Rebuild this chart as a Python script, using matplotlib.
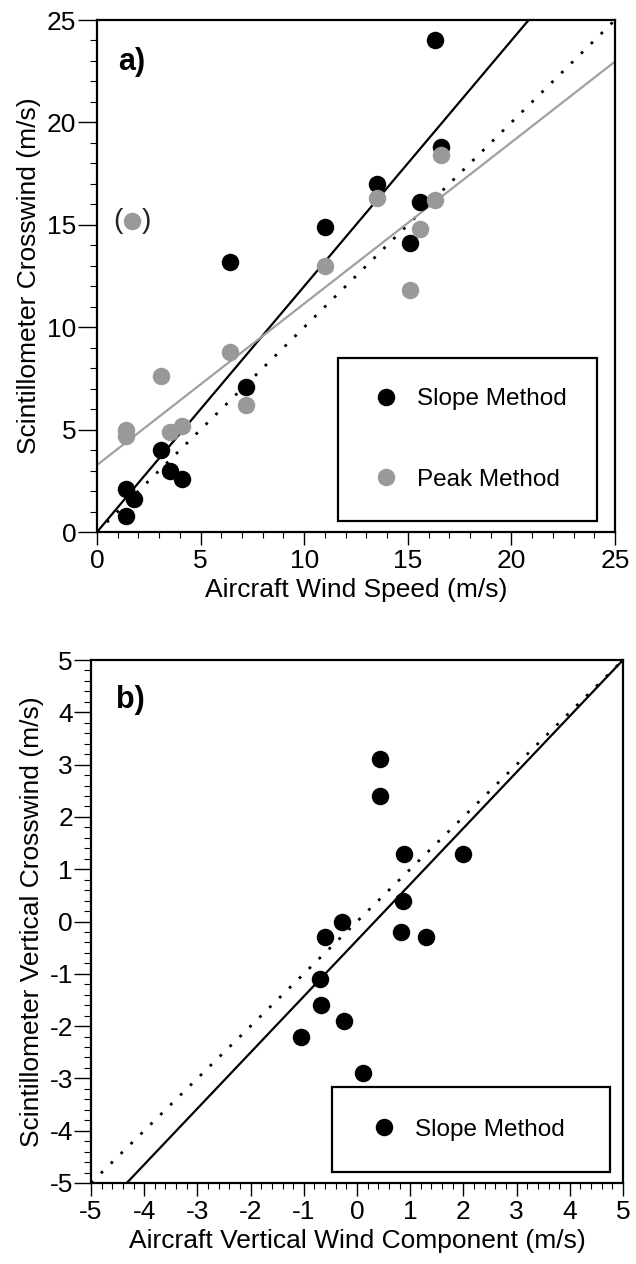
import numpy as np
import matplotlib
matplotlib.use("Agg")
import matplotlib.pyplot as plt
from matplotlib.ticker import MultipleLocator

plt.rcParams['font.family'] = ['Liberation Sans', 'DejaVu Sans']
plt.rcParams['axes.unicode_minus'] = False

# ---- Panel a data ----
slope_x = [1.4, 1.4, 1.8, 3.1, 3.5, 4.1, 6.4, 7.2, 11.0, 13.5, 15.1, 15.6, 16.3, 16.6]
slope_y = [0.8, 2.1, 1.6, 4.0, 3.0, 2.6, 13.2, 7.1, 14.9, 17.0, 14.1, 16.1, 24.0, 18.8]
peak_x = [1.4, 1.4, 3.1, 3.5, 4.1, 6.4, 7.2, 11.0, 13.5, 15.1, 15.6, 16.3, 16.6]
peak_y = [4.7, 5.0, 7.6, 4.9, 5.2, 8.8, 6.2, 13.0, 16.3, 11.8, 14.8, 16.2, 18.4]
outlier_x = [1.7]
outlier_y = [15.2]
fit_a_slope = (1.2, 0.0)      # slope, intercept (slope method)
fit_a_peak = (0.788, 3.27)    # slope, intercept (peak method)
ticks_a = [0, 5, 10, 15, 20, 25]

# ---- Panel b data ----
vert_x = [0.43, 0.44, 0.88, 2.0, 0.87, -0.29, -0.61, 0.83, 1.3, -0.69, -0.67, -0.25, -1.06, 0.11]
vert_y = [3.1, 2.4, 1.3, 1.3, 0.4, 0.0, -0.3, -0.2, -0.3, -1.1, -1.6, -1.9, -2.2, -2.9]
fit_b = (1.072, -0.36)
ticks_b = [-5, -4, -3, -2, -1, 0, 1, 2, 3, 4, 5]

W, H = 636, 1264
fig = plt.figure(figsize=(W / 100, H / 100), dpi=100)

def frac(l, r, t, b):
    return [l / W, 1 - b / H, (r - l) / W, (b - t) / H]

ax1 = fig.add_axes(frac(97, 615, 20, 532))
ax2 = fig.add_axes(frac(91, 623, 660, 1183))

FS = 19
MS = 12.6  # marker size in points
GRAY = '#999999'

def style(ax, major, minor, ylen):
    for s in ax.spines.values():
        s.set_linewidth(1.6)
    ax.xaxis.set_major_locator(MultipleLocator(major))
    ax.yaxis.set_major_locator(MultipleLocator(major))
    ax.xaxis.set_minor_locator(MultipleLocator(minor))
    ax.yaxis.set_minor_locator(MultipleLocator(minor))
    ax.tick_params(axis='x', which='major', direction='out', length=9.5, width=1.0,
                   labelsize=FS, pad=3, top=False)
    ax.tick_params(axis='y', which='major', direction='out', length=ylen, width=1.0,
                   labelsize=FS, pad=1, right=False)
    ax.tick_params(axis='x', which='minor', direction='out', length=4, width=0.8, top=False)
    ax.tick_params(axis='y', which='minor', direction='out', length=5, width=0.8, right=False)

# ---- Panel a ----
xx = np.array([0, 25])
ax1.plot(xx, xx, color='black', lw=2, linestyle=(0, (1, 4)), zorder=1)
ax1.plot(xx, fit_a_slope[0] * xx + fit_a_slope[1], color='black', lw=1.6, zorder=1)
ax1.plot(xx, fit_a_peak[0] * xx + fit_a_peak[1], color='#a0a0a0', lw=1.6, zorder=1)
ax1.plot(slope_x, slope_y, 'o', color='black', ms=MS, mec='none', label='Slope Method', zorder=3)
ax1.plot(peak_x, peak_y, 'o', color=GRAY, ms=MS, mec='none', label='Peak Method', zorder=4)
ax1.plot(outlier_x, outlier_y, 'o', color=GRAY, ms=MS, mec='none', zorder=4)
ax1.text(outlier_x[0] - 0.7, outlier_y[0], '(', fontsize=20, ha='center', va='center', color='#222222')
ax1.text(outlier_x[0] + 0.7, outlier_y[0], ')', fontsize=20, ha='center', va='center', color='#222222')
ax1.set_xlim(0, 25)
ax1.set_ylim(0, 25)
style(ax1, 5, 1, 14)
ax1.set_xticks(ticks_a)
ax1.set_yticks(ticks_a)
ax1.set_xlabel('Aircraft Wind Speed (m/s)', fontsize=FS, labelpad=3)
ax1.set_ylabel('Scintillometer Crosswind (m/s)', fontsize=FS, labelpad=4)
ax1.text(0.04, 0.918, 'a)', transform=ax1.transAxes, fontsize=22, fontweight='bold',
         ha='left', va='center')
leg1 = ax1.legend(loc='upper left', bbox_to_anchor=(0.465, 0.340, 0.50, 0.0), mode='expand',
                  borderaxespad=0, fontsize=17.5, frameon=True, fancybox=False,
                  edgecolor='black', framealpha=1, borderpad=1.25, labelspacing=2.4,
                  handlelength=1.5, handletextpad=0.5)
leg1.get_frame().set_linewidth(1.6)

# ---- Panel b ----
xb = np.array([-5, 5])
ax2.plot(xb, xb, color='black', lw=2, linestyle=(0, (1, 4)), zorder=1)
ax2.plot(xb, fit_b[0] * xb + fit_b[1], color='black', lw=1.6, zorder=1)
ax2.plot(vert_x, vert_y, 'o', color='black', ms=MS, mec='none', label='Slope Method', zorder=3)
ax2.set_xlim(-5, 5)
ax2.set_ylim(-5, 5)
style(ax2, 1, 0.2, 12)
ax2.set_xticks(ticks_b)
ax2.set_yticks(ticks_b)
ax2.set_xlabel('Aircraft Vertical Wind Component (m/s)', fontsize=FS, labelpad=3)
ax2.set_ylabel('Scintillometer Vertical Crosswind (m/s)', fontsize=FS, labelpad=4)
ax2.text(0.047, 0.923, 'b)', transform=ax2.transAxes, fontsize=22, fontweight='bold',
         ha='left', va='center')
leg2 = ax2.legend(loc='upper left', bbox_to_anchor=(0.453, 0.1836, 0.523, 0.0), mode='expand',
                  borderaxespad=0, fontsize=17.5, frameon=True, fancybox=False,
                  edgecolor='black', framealpha=1, borderpad=1.3, handlelength=1.7,
                  handletextpad=0.4)
leg2.get_frame().set_linewidth(1.6)

fig.savefig('out.png', dpi=100)
